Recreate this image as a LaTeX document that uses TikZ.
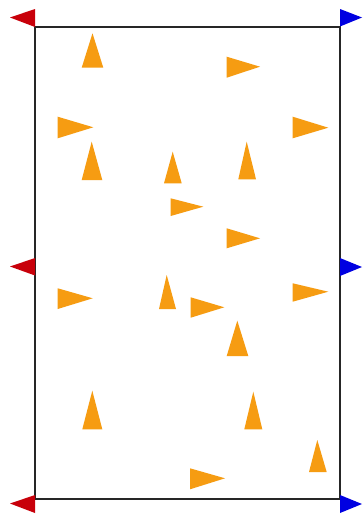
\documentclass[tikz,border=0pt]{standalone}
\definecolor{orangeC}{RGB}{246,156,18}
\definecolor{redC}{RGB}{200,0,10}
\definecolor{blueC}{RGB}{0,0,225}
\tikzset{
  tri/.style={fill=orangeC, draw=none},
  flagred/.style={fill=redC, draw=none},
  flagblue/.style={fill=blueC, draw=none},
  frame/.style={draw=black!85, line width=2pt}
}
\newcommand{\uptri}[5]{\fill[tri] (#1,#2) -- (#4,#3) -- (#5,#3) -- cycle;}
\newcommand{\rttri}[5]{\fill[tri] (#1,#2) -- (#4,#5) -- (#1,#3) -- cycle;}
\begin{document}
\begin{tikzpicture}[x=1pt,y=-1pt]
\useasboundingbox (0,0) rectangle (362,514);
\fill[white] (0,0) rectangle (362,514);
% frame
\draw[frame] (35,27) rectangle (340,499);
% red flags (left)
\fill[flagred] (35,9) -- (10,17.5) -- (35,27) -- cycle;
\fill[flagred] (35,258) -- (10,266.5) -- (35,275.5) -- cycle;
\fill[flagred] (35,495) -- (10,503.5) -- (35,513) -- cycle;
% blue flags (right)
\fill[flagblue] (340,9) -- (362,17.5) -- (340,26.5) -- cycle;
\fill[flagblue] (340,258) -- (362,267) -- (340,276) -- cycle;
\fill[flagblue] (340,495) -- (362,504) -- (340,513) -- cycle;
% up-pointing triangles: apex x, apex y, base y, left x, right x
\uptri{92.5}{33.3}{67.7}{81.7}{103.3}
\uptri{91.7}{141.7}{180}{81.7}{102.3}
\uptri{172.7}{151.7}{183.3}{164}{181.7}
\uptri{246.7}{141.7}{179.3}{238.3}{256}
\uptri{166.7}{275}{309}{159}{176}
\uptri{237.3}{320.7}{356}{226.7}{248.3}
\uptri{92.3}{390.7}{429.3}{82.3}{102.3}
\uptri{253.3}{391.7}{429.3}{244.3}{262.3}
\uptri{317.3}{440}{472}{309}{326.7}
% right-pointing triangles: left x, top y, bottom y, tip x, tip y
\rttri{226.7}{56.7}{77.7}{260}{66.7}
\rttri{292.7}{116.7}{138.3}{328.3}{127.7}
\rttri{57.7}{116.7}{138.3}{93.3}{127.3}
\rttri{170.7}{198.3}{216}{203.3}{206.7}
\rttri{226.7}{228.3}{248.3}{260}{238.3}
\rttri{292.7}{283.3}{301.7}{328.3}{291.7}
\rttri{190.7}{297.3}{317.7}{224.3}{307.3}
\rttri{57.7}{288.3}{309}{92.7}{298.3}
\rttri{190}{468.3}{489.3}{225}{478.3}
\end{tikzpicture}
\end{document}
